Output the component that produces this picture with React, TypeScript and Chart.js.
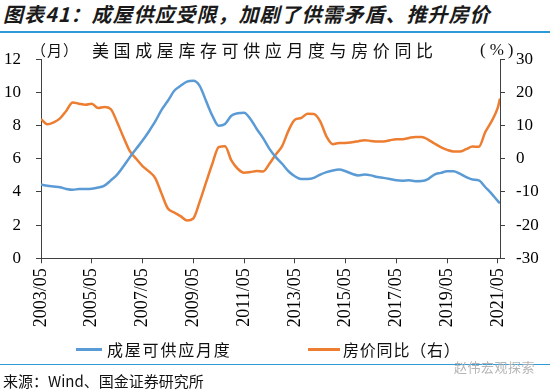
import React, { useEffect, useRef } from "react";
import { Chart, registerables } from "chart.js";
Chart.register(...registerables);

const dates = [
  "2003/05", "2003/08", "2003/11",
  "2004/02", "2004/05", "2004/08", "2004/11",
  "2005/02", "2005/05", "2005/08", "2005/11",
  "2006/02", "2006/05", "2006/08", "2006/11",
  "2007/02", "2007/05", "2007/08", "2007/11",
  "2008/02", "2008/05", "2008/08", "2008/11",
  "2009/02", "2009/05", "2009/08", "2009/11",
  "2010/02", "2010/05", "2010/08", "2010/11",
  "2011/02", "2011/05", "2011/08", "2011/11",
  "2012/02", "2012/05", "2012/08", "2012/11",
  "2013/02", "2013/05", "2013/08", "2013/11",
  "2014/02", "2014/05", "2014/08", "2014/11",
  "2015/02", "2015/05", "2015/08", "2015/11",
  "2016/02", "2016/05", "2016/08", "2016/11",
  "2017/02", "2017/05", "2017/08", "2017/11",
  "2018/02", "2018/05", "2018/08", "2018/11",
  "2019/02", "2019/05", "2019/08", "2019/11",
  "2020/02", "2020/05", "2020/08", "2020/11",
  "2021/02", "2021/05", "2021/06",
];

// 成屋可供应月度 (months, left axis)
const supplyMonths = [
  4.45, 4.38, 4.33,
  4.28, 4.18, 4.13, 4.18,
  4.18, 4.2, 4.27, 4.38,
  4.7, 5.05, 5.55, 6.1,
  6.6, 7.1, 7.65, 8.25,
  8.95, 9.5, 10.1, 10.4,
  10.65, 10.7, 10.4, 9.5,
  8.6, 8.0, 8.1, 8.6,
  8.75, 8.78, 8.4, 7.8,
  7.25, 6.6, 6.1, 5.7,
  5.25, 4.95, 4.78, 4.78,
  4.85, 5.05, 5.2, 5.3,
  5.35, 5.25, 5.1, 5.0,
  5.05, 5.0, 4.9, 4.85,
  4.78, 4.7, 4.68, 4.7,
  4.65, 4.66, 4.78, 5.05,
  5.15, 5.25, 5.25, 5.1,
  4.9, 4.75, 4.7, 4.3,
  3.9, 3.45, 3.32,
];

// 房价同比 (%, right axis)
const priceYoY = [
  12.0, 10.4, 11.0,
  12.2, 14.5, 17.0, 16.6,
  16.3, 16.6, 15.3, 15.6,
  15.0, 11.0, 6.5, 2.3,
  0.0, -2.2, -3.8, -5.8,
  -10.5, -15.0, -16.2, -17.3,
  -18.6, -18.0, -13.0, -7.2,
  -1.5, 3.5, 3.8, -0.5,
  -3.0, -4.2, -4.0, -3.7,
  -3.8, -1.5, 1.3, 3.8,
  8.5, 11.8, 12.3, 13.6,
  13.5, 11.3, 6.7, 4.4,
  4.8, 4.8, 5.0, 5.3,
  5.6, 5.4, 5.2, 5.2,
  5.6, 5.9, 5.9, 6.3,
  6.6, 6.6, 5.8, 4.6,
  3.5, 2.7, 2.2, 2.2,
  2.9, 3.7, 3.6, 8.0,
  11.3, 15.5, 18.2,
];

const xTickLabels = [
  "2003/05", "2005/05", "2007/05", "2009/05", "2011/05",
  "2013/05", "2015/05", "2017/05", "2019/05", "2021/05",
];

const seriesNames = ["成屋可供应月度", "房价同比（右）"];
const seriesColors = ["#5B9BD5", "#ED7D31"];

const monthIndex = (d: string) => {
  const [y, m] = d.split("/").map(Number);
  return (y - 2003) * 12 + (m - 5);
};

const cjk = "'Noto Sans CJK SC', 'Noto Sans', sans-serif";
const serif = "'Liberation Serif', 'DejaVu Serif', serif";

export default function App() {
  const ref = useRef<HTMLCanvasElement>(null);

  useEffect(() => {
    const axisColor = "#404040";
    const yFont = { family: serif, size: 17 };
    const xFont = { family: serif, size: 18 };
    const chart = new Chart(ref.current as HTMLCanvasElement, {
      type: "line",
      data: {
        datasets: [
          {
            label: seriesNames[0],
            data: dates.map((d, i) => ({ x: monthIndex(d), y: supplyMonths[i] })),
            borderColor: seriesColors[0],
            borderWidth: 2.5,
            pointRadius: 0,
            cubicInterpolationMode: "monotone",
            yAxisID: "y",
          },
          {
            label: seriesNames[1],
            data: dates.map((d, i) => ({ x: monthIndex(d), y: priceYoY[i] })),
            borderColor: seriesColors[1],
            borderWidth: 2.5,
            pointRadius: 0,
            cubicInterpolationMode: "monotone",
            yAxisID: "y1",
          },
        ],
      },
      options: {
        animation: false,
        responsive: false,
        maintainAspectRatio: false,
        layout: { padding: { top: 59.3, left: 0, right: 0, bottom: 52.7 } },
        plugins: { legend: { display: false }, tooltip: { enabled: false } },
        scales: {
          x: {
            type: "linear",
            min: 0,
            max: monthIndex(dates[dates.length - 1]),
            afterBuildTicks: (axis: any) => {
              axis.ticks = xTickLabels.map((l) => ({ value: monthIndex(l) }));
            },
            afterFit: (s: any) => {
              s.height = 80;
            },
            ticks: {
              autoSkip: false,
              minRotation: 90,
              maxRotation: 90,
              padding: 5,
              color: "#000",
              font: xFont,
              callback: (v: any) => {
                const l = xTickLabels.find((t) => monthIndex(t) === v);
                return l ?? "";
              },
            },
            grid: { drawOnChartArea: false, drawTicks: true, tickLength: 5, color: axisColor },
            border: { display: true, color: axisColor, width: 1 },
          },
          y: {
            position: "left",
            min: 0,
            max: 12,
            afterFit: (s: any) => {
              s.width = 41;
            },
            ticks: { stepSize: 2, padding: 15, color: "#000", font: yFont },
            grid: { drawOnChartArea: false, drawTicks: true, tickLength: 5, color: axisColor },
            border: { display: true, color: axisColor, width: 1 },
          },
          y1: {
            position: "right",
            min: -30,
            max: 30,
            afterFit: (s: any) => {
              s.width = 50;
            },
            ticks: { stepSize: 10, padding: 11, color: "#000", font: yFont },
            grid: { drawOnChartArea: false, drawTicks: true, tickLength: 5, color: axisColor },
            border: { display: true, color: axisColor, width: 1 },
          },
        },
      },
    } as any);
    return () => chart.destroy();
  }, []);

  const text = (
    content: string,
    left: number,
    centerY: number,
    size: number,
    extra: React.CSSProperties = {}
  ) => (
    <div
      style={{
        position: "absolute",
        left,
        top: centerY - size / 2,
        fontSize: size,
        lineHeight: `${size}px`,
        height: size,
        whiteSpace: "nowrap",
        fontFamily: cjk,
        color: "#111",
        ...extra,
      }}
    >
      {content}
    </div>
  );

  return (
    <div
      style={{
        position: "absolute",
        left: 0,
        top: 0,
        width: 550,
        height: 391,
        background: "#fff",
        overflow: "hidden",
      }}
    >
      {text("图表41：成屋供应受限，加剧了供需矛盾、推升房价", 3, 14, 20, {
        fontWeight: 700,
        fontStyle: "italic",
        letterSpacing: 1,
        color: "#1a1a1a",
      })}
      <div style={{ position: "absolute", left: 0, top: 31, width: 550, height: 1.5, background: "#2E9AD6" }} />
      <canvas
        ref={ref}
        width={550}
        height={391}
        style={{ position: "absolute", left: 0, top: 0, width: 550, height: 391 }}
      />
      {text("（月）", 31, 49, 15, { letterSpacing: 1 })}
      {text("美国成屋库存可供应月度与房价同比", 92, 49, 17, { letterSpacing: 4.6 })}
      {text("(%)", 480, 49, 17, { letterSpacing: 4, fontFamily: serif })}
      <div style={{ position: "absolute", left: 76, top: 348, width: 26, height: 2.5, background: seriesColors[0] }} />
      {text(seriesNames[0], 107, 349, 16, { letterSpacing: 1.8 })}
      <div style={{ position: "absolute", left: 308, top: 348, width: 32, height: 2.5, background: seriesColors[1] }} />
      {text(seriesNames[1], 343, 349, 16, { letterSpacing: 0.8 })}
      <div style={{ position: "absolute", left: 0, top: 363.5, width: 550, height: 1.5, background: "#2E9AD6" }} />
      {text("赵伟宏观探索", 454, 366, 13, { color: "#b5b5b5", letterSpacing: 0.5 })}
      {text("来源：Wind、国金证券研究所", 3, 380, 15, { color: "#111" })}
    </div>
  );
}
